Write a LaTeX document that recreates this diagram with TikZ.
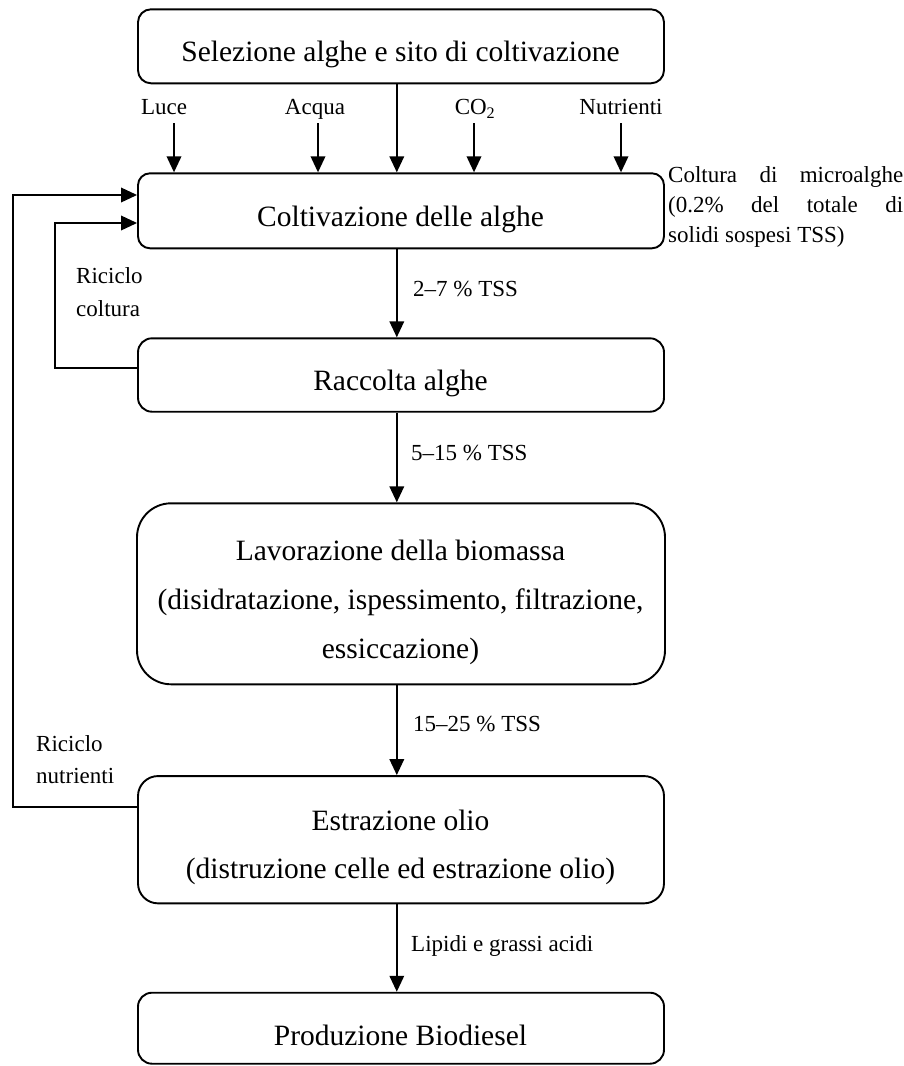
\documentclass[tikz,border=0pt]{standalone}
\usepackage{fontspec}
\setmainfont{Liberation Serif}
\usetikzlibrary{arrows.meta}
\begin{document}
\begin{tikzpicture}[x=1pt,y=-1pt,
  box/.style={draw, line width=1.9pt, inner sep=0pt, minimum width=526pt},
  main/.style={font=\fontsize{29.5}{35}\selectfont, anchor=base, inner sep=0pt},
  lbl/.style={font=\fontsize{23}{28}\selectfont, anchor=base, inner sep=0pt},
  lblw/.style={lbl, anchor=base west},
  arr/.style={line width=1.9pt, -{Triangle[length=16pt,width=14.5pt]}},
  ln/.style={line width=1.9pt}]
\useasboundingbox (0,0) rectangle (903,1066);

% boxes
\node[box, minimum height=74pt, rounded corners=13pt] (sel) at (401,46.3) {};
\node[box, minimum height=75pt, rounded corners=12pt] (colt) at (401,210.8) {};
\node[box, minimum height=73.4pt, rounded corners=14pt] (racc) at (401,375) {};
\node[box, minimum height=181pt, rounded corners=34pt, minimum width=528pt] (lav) at (401,593.8) {};
\node[box, minimum height=127.3pt, rounded corners=20pt] (estr) at (401,839.7) {};
\node[box, minimum height=71pt, rounded corners=14pt] (prod) at (401,1028.2) {};

% box texts
\node[main] (selT) at (400.5,61) {Selezione alghe e sito di coltivazione};
\node[main] (coltT) at (400.5,226) {Coltivazione delle alghe};
\node[main] (raccT) at (400.5,390) {Raccolta alghe};
\node[main] (lavT1) at (400.5,560) {Lavorazione della biomassa};
\node[main] (lavT2) at (400.5,609.3) {(disidratazione, ispessimento, filtrazione,};
\node[main] (lavT3) at (400.5,658.3) {essiccazione)};
\node[main] (estrT1) at (400.5,830) {Estrazione olio};
\node[main] (estrT2) at (400.5,878.3) {(distruzione celle ed estrazione olio)};
\node[main] (prodT) at (400.5,1045) {Produzione Biodiesel};

% input labels
\node[lbl] (luce) at (164,114.3) {Luce};
\node[lbl] (acqua) at (315,114.3) {Acqua};
\node[lbl] (co2) at (475,114.3) {CO\textsubscript{2}};
\node[lbl] (nutr) at (621,114.3) {Nutrienti};

% right note
\node[lblw] (note1) at (668,182) {\makebox[235pt][s]{Coltura di microalghe}};
\node[lblw] (note2) at (668,212) {\makebox[235pt][s]{(0.2\% del totale di}};
\node[lblw] (note3) at (668,242) {solidi sospesi TSS)};

% flow labels
\node[lblw] (f1) at (413,296.7) {2\textendash7 \% TSS};
\node[lblw] (f2) at (411,460) {5\textendash15 \% TSS};
\node[lblw] (f3) at (413,731.7) {15\textendash25 \% TSS};
\node[lblw] (f4) at (411,951.7) {Lipidi e grassi acidi};

% recycle labels
\node[lblw] (rc1) at (76,283.3) {Riciclo};
\node[lblw] (rc2) at (76,316.7) {coltura};
\node[lblw] (rn1) at (36,751.7) {Riciclo};
\node[lblw] (rn2) at (36,783.3) {nutrienti};

% input arrows
\coordinate (luceA) at (174,123);
\coordinate (acquaA) at (318,123);
\coordinate (co2A) at (474,123);
\coordinate (nutrA) at (621,123);
\draw[arr] (luceA) -- (luceA |- colt.north);
\draw[arr] (acquaA) -- (acquaA |- colt.north);
\draw[arr] (co2A) -- (co2A |- colt.north);
\draw[arr] (nutrA) -- (nutrA |- colt.north);

% main flow arrows
\coordinate (ax) at (396.8,0);
\draw[arr] (ax |- sel.south) -- (ax |- colt.north);
\draw[arr] (ax |- colt.south) -- (ax |- racc.north);
\draw[arr] (ax |- racc.south) -- (ax |- lav.north);
\draw[arr] (ax |- lav.south) -- (ax |- estr.north);
\draw[arr] (ax |- estr.south) -- (ax |- prod.north);

% recycle loops
\coordinate (o1) at (12.7,807.3);
\coordinate (o2) at (12.7,195);
\draw[arr] (estr.west |- o1) -- (o1) -- (o2) -- (colt.west |- o2);
\coordinate (i1) at (55,368);
\coordinate (i2) at (55,223);
\draw[arr] (racc.west |- i1) -- (i1) -- (i2) -- (colt.west |- i2);
\end{tikzpicture}
\end{document}
